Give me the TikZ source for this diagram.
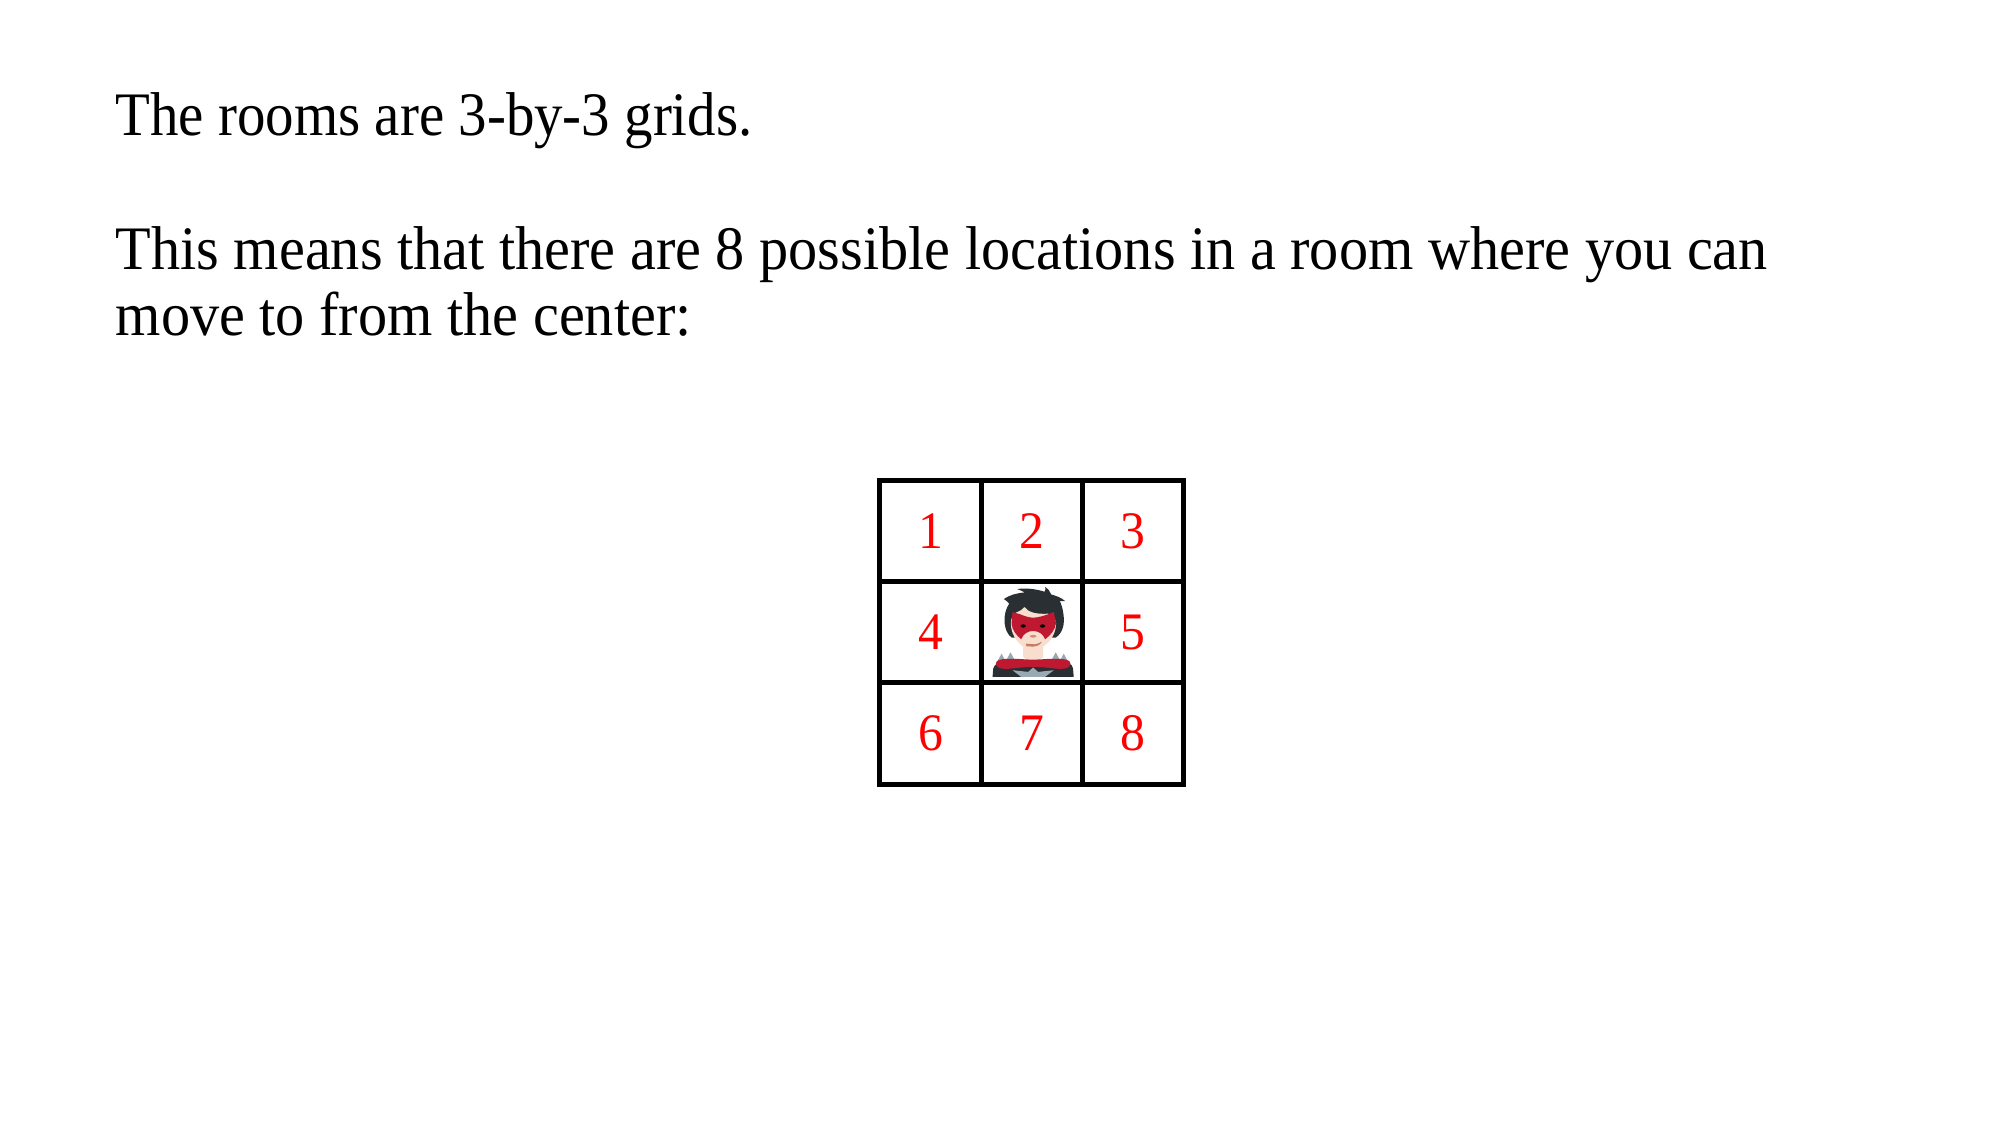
\documentclass[tikz,border=0pt]{standalone}
\usepackage{fontspec}
\setmainfont[FakeStretch=0.942]{Liberation Serif}
\newfontfamily\titlefont[FakeStretch=0.92]{Liberation Serif}
\usepackage{xcolor}
\usepackage{tikz}
\usetikzlibrary{positioning}
\definecolor{hairdark}{HTML}{292F33}
\definecolor{skinlight}{HTML}{F7DECE}
\definecolor{maskred}{HTML}{BE1931}
\definecolor{spikegray}{HTML}{99AAB5}
\definecolor{mouthtan}{HTML}{C1694F}

\begin{document}
\begin{tikzpicture}[
      text_line/.style={
         anchor=base west,
         inner sep=0pt,
         font=\fontsize{17.6}{19}\selectfont},
      cell_st/.style={
         rectangle,
         draw=black,
         line width=0.05cm,
         outer sep=0pt,
         inner sep=0pt,
         minimum size=1.013cm,
         text=red,
         font=\fontsize{15}{18}\selectfont}
]
      \useasboundingbox (0,0) rectangle (20,-11.25);
      %text
      \node[text_line] (title) at (1.15,-1.35) {\titlefont The rooms are 3-by-3 grids.};
      \node[text_line] (body1) at (1.15,-2.69) {This means that there are 8 possible locations in a room where you can};
      \node[text_line] (body2) at (1.15,-3.35) {move to from the center:};

      %grid
      \node[cell_st] (c1) at (9.305,-5.31) {1};
      \foreach \i/\dir/\ref/\txt in {% name/direction/neighbour/text
        c2/right/c1/2,
        c3/right/c2/3,
        c4/below/c1/4,
        hero/right/c4/{},
        c5/right/hero/5,
        c6/below/c4/6,
        c7/right/c6/7,
        c8/right/c7/8}
      \node[cell_st,\dir=0pt of \ref] (\i) {\txt};

      %superhero
      \begin{scope}[shift={(hero.center)},x=0.00333cm,y=-0.00333cm,shift={(-156,-156)}]
        % body
        \fill[hairdark] (38,290) -- (40,265) .. controls (44,250) and (60,244) .. (80,240)
           -- (240,240) .. controls (262,244) and (278,250) .. (280,265) -- (282,290) -- cycle;
        \fill[spikegray] (98,270) -- (145,275) -- (160,262) -- (175,275) -- (222,270)
           -- (196,290) -- (124,290) -- cycle;
        % neck
        \fill[skinlight] (130,185) -- (190,185) -- (190,228) .. controls (190,246) and (130,246) .. (130,228) -- cycle;
        % hair
        \fill[hairdark] (72,56) .. controls (88,44) and (112,38) .. (134,36)
           .. controls (124,30) and (118,28) .. (112,26) .. controls (140,22) and (170,26) .. (194,34)
           .. controls (198,30) and (198,26) .. (196,20) .. controls (206,26) and (212,34) .. (214,42)
           .. controls (226,46) and (244,50) .. (256,62) .. controls (250,60) and (246,60) .. (240,62)
           .. controls (250,80) and (256,120) .. (250,140) .. controls (246,155) and (238,165) .. (228,172)
           -- (96,172) .. controls (84,165) and (74,145) .. (74,120)
           .. controls (74,100) and (78,85) .. (88,70) .. controls (84,64) and (78,60) .. (72,56) -- cycle;
        % face
        \fill[skinlight] (93,130) .. controls (93,112) and (100,100) .. (110,96)
           .. controls (120,92) and (128,88) .. (134,80)
           .. controls (145,96) and (170,102) .. (205,100) .. controls (220,106) and (229,118) .. (229,130)
           .. controls (229,170) and (195,208) .. (160,208) .. controls (125,208) and (93,170) .. (93,130) -- cycle;
        % mask
        \fill[maskred] (98,95) -- (122,102) .. controls (135,108) and (150,112) .. (160,112)
           .. controls (175,112) and (195,106) .. (222,95) -- (229,128)
           .. controls (226,150) and (212,165) .. (196,177) .. controls (190,160) and (175,152) .. (160,152)
           .. controls (145,152) and (130,160) .. (124,177) .. controls (110,165) and (97,150) .. (95,130) -- cycle;
        \fill[black] (130,137) ellipse (8 and 5);
        \fill[black] (188,137) ellipse (8 and 5);
        % nose and mouth
        \fill[mouthtan!70!skinlight] (160,168) ellipse (10 and 4);
        \fill[mouthtan!85!skinlight] (138,190) -- (165,192) .. controls (175,190) and (180,188) .. (186,184)
           .. controls (182,194) and (172,198) .. (160,199) -- (140,198) -- cycle;
        % spikes
        \foreach \p/\q in {65/220,92/216,228/216,252/220}
        \fill[spikegray] (\p-14,\q+26) -- (\p,\q) -- (\p+14,\q+26) -- cycle;
        % cape
        \fill[maskred] (48,250) .. controls (48,240) and (62,236) .. (80,236)
           .. controls (110,234) and (130,238) .. (160,238) .. controls (190,238) and (210,234) .. (240,236)
           .. controls (258,236) and (272,240) .. (272,250) .. controls (272,262) and (260,266) .. (240,266)
           .. controls (210,264) and (190,260) .. (160,260) .. controls (130,260) and (110,264) .. (80,266)
           .. controls (62,266) and (48,262) .. (48,250) -- cycle;
      \end{scope}
\end{tikzpicture}
\end{document}
